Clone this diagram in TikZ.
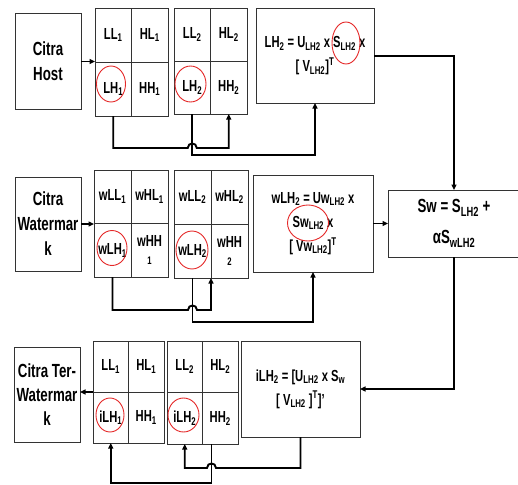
\documentclass[tikz,border=0pt]{standalone}
\usepackage{fontspec}
\setmainfont{Liberation Sans}[FakeStretch=0.7]
\usetikzlibrary{arrows.meta,calc,shapes.geometric}
\definecolor{ringred}{RGB}{228,40,40}
\newcommand\sbs[1]{\textsubscript{#1}}
\newcommand\dwtgrid[9]{%
  \node[cell,minimum width=#4,minimum height=#5,anchor=north west] (#1a) at (#2,#3) {#6};
  \node[cell,minimum width=#4,minimum height=#5,anchor=north west] (#1b) at (#1a.north east) {#7};
  \node[cell,minimum width=#4,minimum height=#5,anchor=north west] (#1c) at (#1a.south west) {#8};
  \node[cell,minimum width=#4,minimum height=#5,anchor=north west] (#1d) at (#1a.south east) {#9};}
\begin{document}
\begin{tikzpicture}[x=1pt,y=-1pt,
  cell/.style={draw=black!80,line width=0.8pt,inner sep=0pt,outer sep=0pt,align=center,
    font=\fontsize{16}{18}\selectfont\bfseries},
  srcbox/.style={draw=black!80,line width=1pt,inner sep=0pt,outer sep=0pt,align=center,
    minimum width=66pt,font=\fontsize{19}{25}\selectfont\bfseries},
  fbox/.style={draw=black!80,line width=1pt,inner sep=0pt,outer sep=0pt,align=center,
    font=\fontsize{16}{24}\selectfont\bfseries},
  ring/.style={draw=ringred,line width=0.9pt,ellipse,inner sep=0pt},
  conn/.style={line width=1.9pt,black},
  arr/.style={conn,-{Triangle[length=5.5pt,width=5pt]}}]
\path[use as bounding box,clip] (0,0) rectangle (518,484);

% row 1
\node[srcbox,minimum height=95pt] (H) at (48,61.5) {Citra\\Host};
\dwtgrid{g1}{95}{8}{36.5pt}{54pt}{LL\sbs{1}}{HL\sbs{1}}{LH\sbs{1}}{HH\sbs{1}}
\dwtgrid{g2}{174}{8}{36.5pt}{53pt}{LL\sbs{2}}{HL\sbs{2}}{LH\sbs{2}}{HH\sbs{2}}
\node[fbox,minimum width=118pt,minimum height=94pt] (F1) at (315,56)
  {LH\sbs{2} = U\sbs{LH2} x S\sbs{LH2} x\\{[} V\sbs{LH2}]\textsuperscript{T}};
\node[ring,minimum width=29pt,minimum height=36pt] (r1) at (111,84) {};
\node[ring,minimum width=31pt,minimum height=36pt] (r2) at (190.5,84) {};
\node[ring,minimum width=28pt,minimum height=42pt] (r3) at (346,43) {};

% row 2
\node[srcbox,minimum height=94pt] (W) at (48,224) {Citra\\Watermar\\k};
\dwtgrid{w1}{94}{170}{37pt}{53.5pt}{wLL\sbs{1}}{wHL\sbs{1}}{wLH\sbs{1}}{wHH\\{\fontsize{11}{18}\selectfont 1}}
\dwtgrid{w2}{174}{170}{37pt}{54pt}{wLL\sbs{2}}{wHL\sbs{2}}{wLH\sbs{2}}{wHH\\{\fontsize{11}{18}\selectfont 2}}
\node[fbox,minimum width=120pt,minimum height=97pt] (F2) at (313,223.5)
  {wLH\sbs{2} = Uw\sbs{LH2} x\\Sw\sbs{LH2} x\\{[} Vw\sbs{LH2}]\textsuperscript{T}};
\node[fbox,minimum width=132pt,minimum height=67pt,font=\fontsize{19}{31}\selectfont\bfseries] (Sw) at (454,223.5)
  {Sw = S\sbs{LH2} +\\αS\sbs{wLH2}};
\node[ring,minimum width=30pt,minimum height=35pt] (r4) at (112,248) {};
\node[ring,minimum width=32pt,minimum height=38pt] (r5) at (192,250) {};
\node[ring,minimum width=41pt,minimum height=36pt] (r6) at (308,223) {};

% row 3
\node[srcbox,minimum height=95pt,font=\fontsize{19}{24}\selectfont\bfseries] (T) at (47,394.5) {Citra Ter-\\Watermar\\k};
\dwtgrid{i1}{93}{341}{35.5pt}{51pt}{LL\sbs{1}}{HL\sbs{1}}{iLH\sbs{1}}{HH\sbs{1}}
\dwtgrid{i2}{167}{341}{35.5pt}{51.5pt}{LL\sbs{2}}{HL\sbs{2}}{iLH\sbs{2}}{HH\sbs{2}}
\node[fbox,minimum width=119pt,minimum height=96pt] (F3) at (300.5,389)
  {iLH\sbs{2} = [U\sbs{LH2} x S\sbs{w}\\{[} V\sbs{LH2} ]\textsuperscript{T}]'};
\node[ring,minimum width=28pt,minimum height=34pt] (r7) at (110,415) {};
\node[ring,minimum width=31pt,minimum height=34pt] (r8) at (183.5,415) {};
\coordinate (tap) at ($(i2d.south west)+(9,0)$);

% connectors row 1
\draw[arr] (H.east) -- (H.east -| g1a.west);
\draw[arr] (g1c.south) |- ($(g2c.south)+(-4.5,34)$) .. controls +(0,-6) and +(0,-6) .. ++(9,0) -| (g2d.south);
\draw[arr] (g2c.south) -- ++(0,41) -| (F1.south);
\draw[arr] (F1.east) -| (Sw.north);

% connectors row 2
\draw[arr] (W.east) -- (W.east -| w1a.west);
\draw[arr] (w1c.south) |- ($(w2c.south)+(-4.5,32)$) .. controls +(0,-6) and +(0,-6) .. ++(9,0) -| (w2c.south east);
\draw[arr] (w2c.south) -- ++(0,44) -| (F2.south);
\draw[arr] (F2.east) -- (Sw.west);
\draw[arr] (Sw.south) |- (F3.east);

% connectors row 3
\draw[arr] (i1a.south west) -- (i1a.south west -| T.east);
\draw[arr] (F3.south) |- ($(tap)+(4.5,24)$) .. controls +(0,-6) and +(0,-6) .. ++(-9,0) -| (i2c.south);
\draw[arr] (tap) -- ++(0,39) -| (i1c.south);
\end{tikzpicture}
\end{document}
